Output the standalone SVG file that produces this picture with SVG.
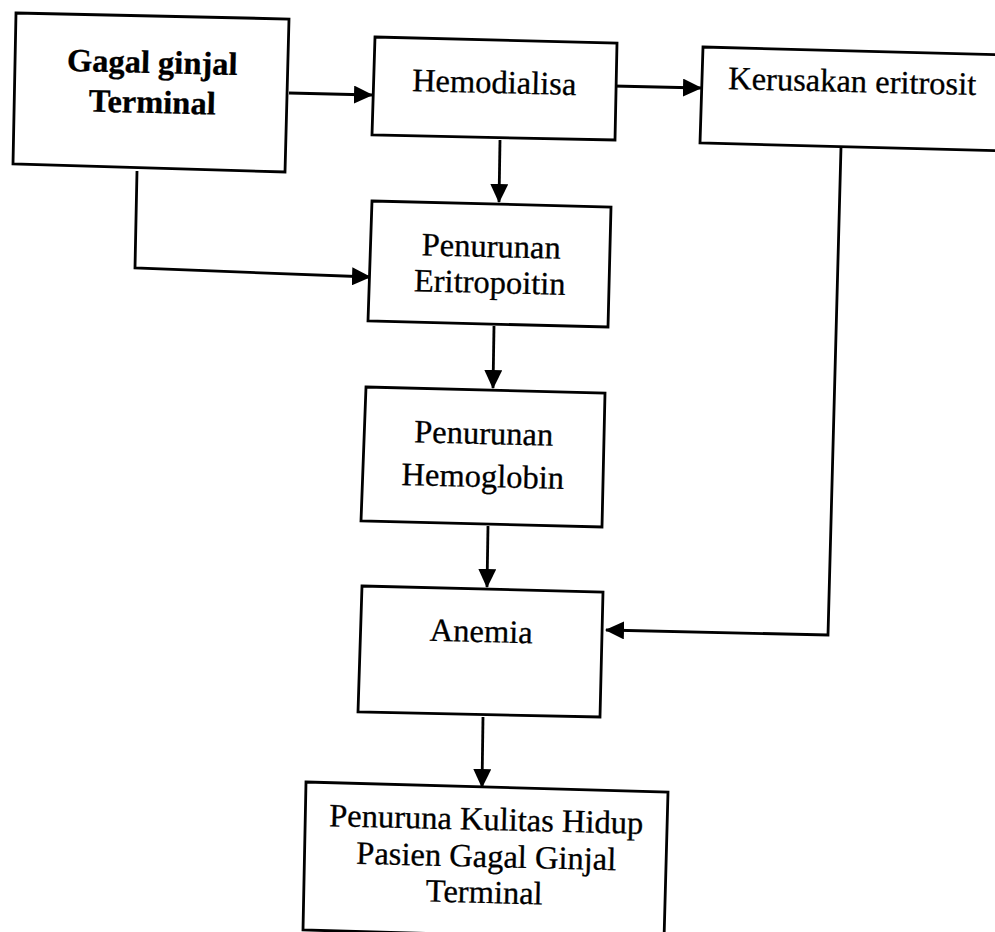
<svg xmlns="http://www.w3.org/2000/svg" width="995" height="932" viewBox="0 0 995 932">
<style>
.box{fill:#fff;stroke:#000;stroke-width:2.8;stroke-linejoin:miter}
.t{font-family:"Liberation Serif","Times New Roman",serif;font-size:32.5px;text-anchor:middle;fill:#000;stroke:#000;stroke-width:0.3}
.b{font-weight:bold}
.c{fill:none;stroke:#000;stroke-width:2.8;marker-end:url(#ah)}
</style>
<defs>
<marker id="ah" markerUnits="userSpaceOnUse" markerWidth="19" markerHeight="18" refX="18" refY="9" orient="auto">
<path d="M0,0 L19,9 L0,18 Z" fill="#000"/>
</marker>
</defs>
<rect width="995" height="932" fill="#fff"/>
<g id="connectors">
<path class="c" d="M289,93 L372,95"/>
<path class="c" d="M613,86 L701,88"/>
<path class="c" d="M500,140 L499,202"/>
<path class="c" d="M137,171 L135,268 L370,277"/>
<path class="c" d="M494,326 L493,388"/>
<path class="c" d="M488,526 L487,587"/>
<path class="c" d="M841,147 L828,635 L606,630"/>
<path class="c" d="M483,717 L482,787"/>
</g>
<g id="gagal">
<polygon class="box" points="16,13 289,19 285,172 13,164"/>
<text class="t b" x="152" y="73" transform="rotate(1.4 152 73)">Gagal ginjal</text>
<text class="t b" x="152" y="113" transform="rotate(1.4 152 113)">Terminal</text>
</g>
<g id="hemodialisa">
<polygon class="box" points="375,37 617,43 615,140 372,135"/>
<text class="t" x="494" y="93" transform="rotate(1.4 494 93)">Hemodialisa</text>
</g>
<g id="kerusakan">
<polygon class="box" points="703,47 1010,55 1010,151 700,143"/>
<text class="t" x="852" y="92" transform="rotate(1.4 852 92)">Kerusakan eritrosit</text>
</g>
<g id="eritropoitin">
<polygon class="box" points="372,201 611,207 608,327 368,321"/>
<text class="t" x="491" y="257" transform="rotate(1.4 491 257)">Penurunan</text>
<text class="t" x="489.5" y="293" transform="rotate(1.4 489.5 293)">Eritropoitin</text>
</g>
<g id="hemoglobin">
<polygon class="box" points="366,387 605,393 602,527 361,521"/>
<text class="t" x="483.5" y="444" transform="rotate(1.4 483.5 444)">Penurunan</text>
<text class="t" x="482.5" y="487" transform="rotate(1.4 482.5 487)">Hemoglobin</text>
</g>
<g id="anemia">
<polygon class="box" points="362,586 603,592 600,717 358,712"/>
<text class="t" x="481" y="642" transform="rotate(1.4 481 642)">Anemia</text>
</g>
<g id="kualitas">
<polygon class="box" points="306,782 668,792 664,940 303,930"/>
<text class="t" x="486" y="830" transform="rotate(1.4 486 830)">Penuruna Kulitas Hidup</text>
<text class="t" x="486" y="867" transform="rotate(1.4 486 867)">Pasien Gagal Ginjal</text>
<text class="t" x="484" y="903" transform="rotate(1.4 484 903)">Terminal</text>
</g>
</svg>
